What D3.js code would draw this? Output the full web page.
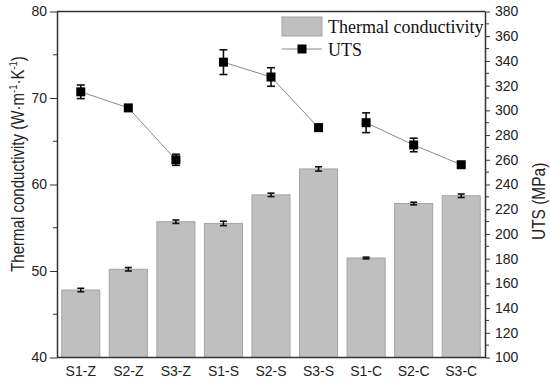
<!DOCTYPE html>
<html><head><meta charset="utf-8">
<script src="https://cdn.jsdelivr.net/npm/d3@7"></script>
<style>body{margin:0;background:#fff}</style>
</head><body>
<svg id="c" width="550" height="383"></svg>
<script>
const categories = ["S1-Z","S2-Z","S3-Z","S1-S","S2-S","S3-S","S1-C","S2-C","S3-C"];
const conductivity = [47.8, 50.2, 55.7, 55.5, 58.8, 61.8, 51.5, 57.8, 58.7];
const conductivityErr = [0.2, 0.2, 0.2, 0.25, 0.2, 0.25, 0.1, 0.15, 0.2];
const uts = [315, 302, 260, 339, 327, 286, 290, 272, 256];
const utsErr = [5.5, 0, 4.5, 10, 7.5, 2.5, 8, 5.5, 1.5];
const leftTicks = [40, 50, 60, 70, 80];
const rightTicks = d3.range(100, 381, 20);

const svg = d3.select("#c");
const m = {l:57, r:485, t:11.5, b:357.5};
const x = d3.scaleBand().domain(categories).range([m.l, m.r]).paddingInner(0.2).paddingOuter(0.1);
const yL = d3.scaleLinear().domain([40, 80]).range([m.b, m.t]);
const yR = d3.scaleLinear().domain([100, 380]).range([m.b, m.t]);
const axisColor = "#333";

// bars
svg.append("g").selectAll("rect").data(categories).join("rect")
  .attr("x", d => x(d)).attr("width", x.bandwidth())
  .attr("y", (d,i) => yL(conductivity[i])).attr("height", (d,i) => m.b - yL(conductivity[i]))
  .attr("fill", "#bfbfbf").attr("stroke", "#a3a3a3").attr("stroke-width", 1);

function errBars(vals, errs, scale, cap) {
  const g = svg.append("g").attr("stroke", "#111").attr("stroke-width", 1.6);
  categories.forEach((c, i) => {
    if (!errs[i]) return;
    const cx = x(c) + x.bandwidth()/2;
    const y1 = scale(vals[i] + errs[i]), y2 = scale(vals[i] - errs[i]);
    g.append("line").attr("x1", cx).attr("x2", cx).attr("y1", y1).attr("y2", y2);
    g.append("line").attr("x1", cx-cap).attr("x2", cx+cap).attr("y1", y1).attr("y2", y1);
    g.append("line").attr("x1", cx-cap).attr("x2", cx+cap).attr("y1", y2).attr("y2", y2);
  });
}
errBars(conductivity, conductivityErr, yL, 3.5);

// UTS line
const groups = [[0,1,2],[3,4,5],[6,7,8]];
const line = d3.line().x(i => x(categories[i]) + x.bandwidth()/2).y(i => yR(uts[i]));
groups.forEach(gr => {
  svg.append("path").attr("d", line(gr)).attr("fill", "none").attr("stroke", "#8a8a8a").attr("stroke-width", 1);
});
errBars(uts, utsErr, yR, 4);
svg.append("g").selectAll("rect").data(categories).join("rect")
  .attr("x", d => x(d) + x.bandwidth()/2 - 4.5).attr("y", (d,i) => yR(uts[i]) - 4.5)
  .attr("width", 9).attr("height", 9).attr("fill", "#000");

// frame
svg.append("line").attr("x1", m.l).attr("x2", m.r).attr("y1", m.t).attr("y2", m.t).attr("stroke", axisColor).attr("stroke-width", 1.5);
svg.append("line").attr("x1", m.l).attr("x2", m.r).attr("y1", m.b).attr("y2", m.b).attr("stroke", axisColor).attr("stroke-width", 1.5);

// left axis
const gL = svg.append("g").attr("transform", `translate(${m.l},0)`)
  .call(d3.axisLeft(yL).tickValues(leftTicks).tickSize(7).tickPadding(3).tickSizeOuter(0));
gL.append("g").selectAll("line").data([45,55,65,75]).join("line")
  .attr("x1", -4).attr("x2", 0).attr("y1", d => yL(d)).attr("y2", d => yL(d)).attr("stroke", axisColor);
// right axis
const gR = svg.append("g").attr("transform", `translate(${m.r},0)`)
  .call(d3.axisRight(yR).tickValues(rightTicks).tickSize(5).tickPadding(5).tickSizeOuter(0));
gR.append("g").selectAll("line").data(d3.range(110, 380, 20)).join("line")
  .attr("x1", 0).attr("x2", 4).attr("y1", d => yR(d)).attr("y2", d => yR(d)).attr("stroke", axisColor);
// bottom axis labels
const gB = svg.append("g").attr("transform", `translate(0,${m.b})`)
  .call(d3.axisBottom(x).tickSize(0).tickPadding(8.5));
gB.select(".domain").remove();

[gL, gR, gB].forEach(g => {
  g.selectAll("text").attr("font-family", "Liberation Sans, Arial, sans-serif").attr("font-size", 14).attr("fill", "#222");
  g.selectAll("line, path").attr("stroke", axisColor);
  g.select(".domain").attr("stroke-width", 1.5);
});

// axis titles
const tL = svg.append("text").attr("transform", `translate(24,164) rotate(-90) scale(0.86,1)`)
  .attr("text-anchor", "middle").attr("font-family", "Liberation Sans, Arial, sans-serif").attr("font-size", 17.5).attr("fill", "#222");
tL.append("tspan").text("Thermal conductivity (W·m");
tL.append("tspan").text("-1").attr("font-size", 11).attr("dy", -7);
tL.append("tspan").text("·K").attr("dy", 7);
tL.append("tspan").text("-1").attr("font-size", 11).attr("dy", -7);
tL.append("tspan").text(")").attr("dy", 7);

svg.append("text").attr("transform", `translate(545,240) rotate(-90) scale(0.86,1)`)
  .attr("text-anchor", "start").attr("font-family", "Liberation Sans, Arial, sans-serif").attr("font-size", 18).attr("fill", "#222")
  .text("UTS (MPa)");

// legend
const lg = svg.append("g").attr("font-family", "Liberation Serif, Times New Roman, serif").attr("font-size", 18).attr("fill", "#111");
lg.append("rect").attr("x", 282).attr("y", 17).attr("width", 40).attr("height", 19).attr("fill", "#bfbfbf").attr("stroke", "#a3a3a3");
lg.append("text").attr("x", 328).attr("y", 33).text("Thermal conductivity");
lg.append("line").attr("x1", 282).attr("x2", 322).attr("y1", 49).attr("y2", 49).attr("stroke", "#8a8a8a");
lg.append("rect").attr("x", 297.5).attr("y", 44.5).attr("width", 9).attr("height", 9).attr("fill", "#000");
lg.append("text").attr("x", 328).attr("y", 55.5).text("UTS");
</script>
</body></html>
